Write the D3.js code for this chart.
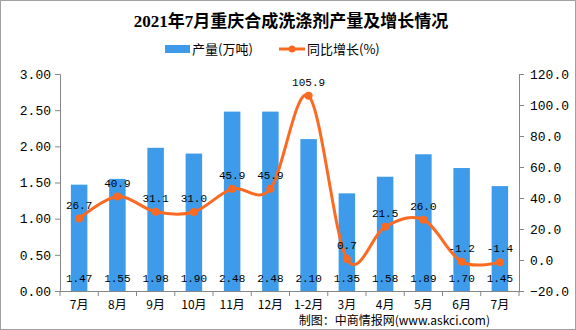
<!DOCTYPE html>
<html><head><meta charset="utf-8">
<script src="https://cdn.jsdelivr.net/npm/d3@7/dist/d3.min.js"></script>
<style>body{margin:0;background:#fff}svg{display:block}</style>
</head><body>
<svg id="c" width="576" height="330"></svg>
<script>
const categories = ["7月","8月","9月","10月","11月","12月","1-2月","3月","4月","5月","6月","7月"];
const output = [1.47,1.55,1.98,1.90,2.48,2.48,2.10,1.35,1.58,1.89,1.70,1.45];
const growth = [26.7,40.9,31.1,31.0,45.9,45.9,105.9,0.7,21.5,26.0,-1.2,-1.4];
const leftTicks = [0,0.5,1,1.5,2,2.5,3];
const rightTicks = [-20,0,20,40,60,80,100,120];
const title = "2021年7月重庆合成洗涤剂产量及增长情况";
const legendNames = ["产量(万吨)","同比增长(%)"];
const source = "制图：中商情报网(www.askci.com)";

const svg = d3.select("#c");
const L = 60, R = 519, T = 74, B = 291;
const blue = "#3d9be9", orange = "#fb6a22", axisC = "#868686";
const mono = "'Liberation Mono','DejaVu Sans Mono',monospace";
const cjk = "'Noto Sans CJK SC','Noto Sans',sans-serif";

svg.append("rect").attr("x",0.5).attr("y",0.5).attr("width",575).attr("height",329)
  .attr("fill","#fff").attr("stroke","#a0a0a0");

const x = d3.scaleBand().domain(d3.range(categories.length)).range([L,R]).paddingInner(0).paddingOuter(0);
const yL = d3.scaleLinear().domain([0,3]).range([B,T]);
const yR = d3.scaleLinear().domain([-20,120]).range([B,T]);

// title
svg.append("text").attr("x",291).attr("y",27).attr("text-anchor","middle")
  .attr("font-family","'Liberation Serif','Noto Sans CJK SC',serif").attr("font-weight","bold")
  .attr("font-size",17).attr("fill","#000").text(title);

// legend
const lg = svg.append("g").attr("font-family",cjk).attr("font-size",13).attr("fill","#000");
lg.append("rect").attr("x",165).attr("y",45).attr("width",25).attr("height",8).attr("fill",blue);
lg.append("text").attr("x",192).attr("y",54).text(legendNames[0]);
lg.append("line").attr("x1",279).attr("x2",305).attr("y1",49).attr("y2",49).attr("stroke",orange).attr("stroke-width",3);
lg.append("circle").attr("cx",292).attr("cy",49).attr("r",3.5).attr("fill",orange);
lg.append("text").attr("x",307).attr("y",54).text(legendNames[1]);

// bars
const bw = 16.5;
svg.append("g").selectAll("rect").data(output).join("rect")
  .attr("x",(d,i)=>x(i)+x.bandwidth()/2-bw/2).attr("width",bw)
  .attr("y",d=>yL(d)).attr("height",d=>yL(0)-yL(d)).attr("fill",blue);

// axes
const axL = svg.append("g").attr("transform",`translate(${L},0)`)
  .call(d3.axisLeft(yL).tickValues(leftTicks).tickFormat(d3.format(".2f")).tickSize(5).tickPadding(4));
const axR = svg.append("g").attr("transform",`translate(${R},0)`)
  .call(d3.axisRight(yR).tickValues(rightTicks).tickFormat(d3.format(".1f")).tickSize(5).tickPadding(6));
const axB = svg.append("g").attr("transform",`translate(0,${B})`)
  .call(d3.axisBottom(x).tickFormat(i=>categories[i]).tickSize(0).tickPadding(9));
[axL,axR,axB].forEach(a=>{
  a.select(".domain").attr("stroke",axisC);
  a.selectAll(".tick line").attr("stroke",axisC);
});
axL.selectAll("text").attr("font-family",mono).attr("font-size",13).attr("fill","#000");
axR.selectAll("text").attr("font-family",mono).attr("font-size",13).attr("fill","#000");
axB.selectAll("text").attr("font-family",cjk).attr("font-size",12).attr("fill","#000");
axB.select(".domain").attr("d",`M${L},0.5H${R}`);
// category boundary ticks
axB.append("g").selectAll("line").data(d3.range(categories.length+1)).join("line")
  .attr("x1",i=>L+i*x.bandwidth()).attr("x2",i=>L+i*x.bandwidth())
  .attr("y1",0).attr("y2",5).attr("stroke",axisC);

// line
const px = i=>x(i)+x.bandwidth()/2;
svg.append("path").datum(growth)
  .attr("d",d3.line().x((d,i)=>px(i)).y(d=>yR(d)).curve(d3.curveCardinal.tension(0)))
  .attr("fill","none").attr("stroke",orange).attr("stroke-width",3);
svg.append("g").selectAll("circle").data(growth).join("circle")
  .attr("cx",(d,i)=>px(i)).attr("cy",d=>yR(d)).attr("r",4).attr("fill",orange);

// labels
svg.append("g").attr("font-family",mono).attr("font-size",11).attr("text-anchor","middle").attr("fill","#000")
  .selectAll("text").data(growth).join("text")
  .attr("x",(d,i)=>px(i)).attr("y",d=>yR(d)-10).text(d=>d.toFixed(1));
svg.append("g").attr("font-family",mono).attr("font-size",11).attr("text-anchor","middle").attr("fill","#000")
  .selectAll("text").data(output).join("text")
  .attr("x",(d,i)=>px(i)).attr("y",282).text(d=>d.toFixed(2));

// source
svg.append("text").attr("x",490).attr("y",325).attr("text-anchor","end")
  .attr("font-family",cjk).attr("font-size",12).attr("fill","#000").text(source);
</script>
</body></html>
